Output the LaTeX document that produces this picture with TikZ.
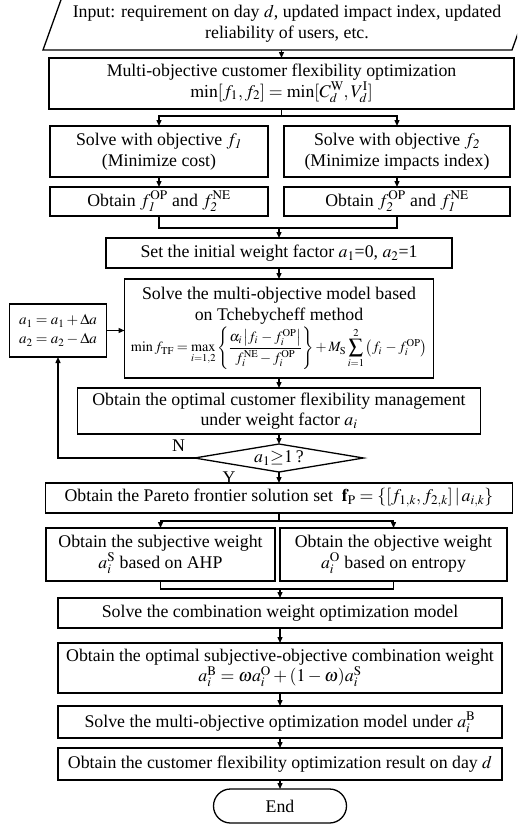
\documentclass[tikz,border=0pt]{standalone}
\usepackage{mathptmx}
\usepackage{fontspec}
\setmainfont{Liberation Serif}
\usetikzlibrary{positioning,shapes.geometric,arrows.meta}

\begin{document}
\begin{tikzpicture}[
    x=1pt, y=1pt,
    box/.style={
        draw,
        line width=1.3pt,
        align=center,
        font=\fontsize{17.8}{20.5}\selectfont,
        inner sep=1pt,
        outer sep=0pt
    },
    sidebox/.style={box, minimum width=218pt, minimum height=51pt},
    obtbox/.style={box, minimum width=218pt, minimum height=29pt},
    mainbox/.style={box, minimum width=444pt, minimum height=32pt},
    inputtext/.style={box, draw=none, minimum width=488pt, minimum height=53pt},
    decision/.style={box, diamond, aspect=6, minimum width=169pt, minimum height=28pt, inner sep=0pt},
    terminal/.style={box, rounded corners=17pt, minimum width=133pt, minimum height=34pt},
    lbl/.style={font=\fontsize{17.8}{20}\selectfont, inner sep=0pt},
    line/.style={line width=1.3pt},
    arr/.style={line, -{Triangle[length=6pt,width=5pt]}}
]
\useasboundingbox (0,0) rectangle (517,-825);
\clip (0,0) rectangle (517,-825);

\node[inputtext] (input) at (287,-23.5) {Input: requirement on day $d$, updated impact index, updated\\reliability of users, etc.};
\draw[line] (input.south west) -- ([xshift=-19pt]input.south east) -- (input.north east) -- ([xshift=19pt]input.north west) -- cycle;

\node[box, minimum width=465pt, minimum height=51pt, anchor=north] (opt) at (281.5,-58) {Multi-objective customer flexibility optimization\\$\min[f_1,f_2]=\min[C_d^{\mathrm{W}},V_d^{\mathrm{I}}]$};
\coordinate[below=7pt of opt] (split1);
\node[sidebox, below=17pt of opt, xshift=-122.5pt] (solve1) {Solve with objective $f_{\mathit{1}}$\\(Minimize cost)};
\node[sidebox, minimum width=226pt, below=17pt of opt, xshift=115.5pt] (solve2) {Solve with objective $f_{\mathit{2}}$\\(Minimize impacts index)};
\node[obtbox, below=10pt of solve1] (obt1) {Obtain $f_{\mathit{1}}^{\mathrm{OP}}$ and $f_{\mathit{2}}^{\mathrm{NE}}$};
\node[obtbox, minimum width=226pt, below=10pt of solve2] (obt2) {Obtain $f_{\mathit{2}}^{\mathrm{OP}}$ and $f_{\mathit{1}}^{\mathrm{NE}}$};

\node[box, minimum width=346pt, minimum height=30pt, below=129pt of opt, xshift=-2.5pt] (init) {Set the initial weight factor $a_1$=0, $a_2$=1};
\coordinate[above=10pt of init] (join1);
\node[box, minimum width=309pt, minimum height=99pt, below=11pt of init] (tcheb) {Solve the multi-objective model based\\on Tchebycheff method\\[2pt]
    \resizebox{296pt}{!}{$\displaystyle\min f_{\mathrm{TF}}=\max_{i=1,2}\left\{\frac{\alpha_i\left|f_i\,-f_i^{\mathrm{OP}}\right|}{f_i^{\mathrm{NE}}-f_i^{\mathrm{OP}}}\right\}+M_{\mathrm{S}}\sum_{i=1}^{2}\left(f_i\,-f_i^{\mathrm{OP}}\right)$}};
\node[box, font=\fontsize{15}{19}\selectfont, minimum width=97pt, minimum height=53pt, left=18pt of tcheb, yshift=-2pt] (update) {$a_1=a_1+\Delta a$\\$a_2=a_2-\Delta a$};
\node[box, minimum width=403pt, minimum height=46pt, below=10pt of tcheb] (manage) {Obtain the optimal customer flexibility management\\under weight factor $a_i$};
\node[decision, below=10pt of manage] (check) {$a_1{\geq}1$\,?};
\node[lbl] (no) at ([shift={(-16,12)}]check.west) {N};
\node[lbl] (yes) at ([shift={(-50,-6)}]check.south) {Y};

\node[box, minimum width=467pt, minimum height=30pt, below=11pt of check] (pareto) {Obtain the Pareto frontier solution set\ \ $\mathbf{f}_{\mathrm{P}}=\{[f_{1,k},f_{2,k}]\,|\,a_{i,k}\}$};
\coordinate[below=8pt of pareto] (split2);
\node[sidebox, minimum width=229pt, minimum height=53pt, below=15pt of pareto, xshift=-118.5pt] (subj) {Obtain the subjective weight\\$a_i^{\mathrm{S}}$ based on AHP};
\node[sidebox, minimum width=227pt, minimum height=53pt, below=15pt of pareto, xshift=114.5pt] (obj) {Obtain the objective weight\\$a_i^{\mathrm{O}}$ based on entropy};

\node[mainbox, minimum height=30pt, below=85pt of pareto, xshift=1pt] (comb) {Solve the combination weight optimization model};
\coordinate[above=9pt of comb] (join2);
\node[mainbox, minimum height=50pt, below=15pt of comb] (optw) {Obtain the optimal subjective-objective combination weight\\$a_i^{\mathrm{B}}=\omega a_i^{\mathrm{O}}+(1-\omega)a_i^{\mathrm{S}}$};
\node[mainbox, below=13pt of optw] (solvem) {Solve the multi-objective optimization model under $a_i^{\mathrm{B}}$};
\node[mainbox, below=10pt of solvem] (result) {Obtain the customer flexibility optimization result on day $d$};
\node[terminal, below=9pt of result] (end) {End};

\draw[arr] (input.south -| opt.north) -- (opt.north);
\draw[arr] (opt) -- (split1) -| (solve1);
\draw[arr] (split1) -| (solve2);
\draw[arr] (solve1) -- (obt1);
\draw[arr] (solve2) -- (obt2);
\draw[line] (obt1) |- (join1) -| (obt2);
\draw[arr] (join1) -- (init);
\draw[arr] (init) -- (tcheb);
\draw[arr] (update) -- (update -| tcheb.west);
\draw[arr] (tcheb) -- (manage);
\draw[arr] (manage) -- (check);
\draw[arr] (check.west) -| (update.south);
\draw[arr] (check) -- (pareto);
\draw[arr] (pareto) -- (split2) -| (subj);
\draw[arr] (split2) -| (obj);
\draw[line] (subj) |- (join2) -| (obj);
\draw[arr] (join2) -- (comb);
\draw[arr] (comb) -- (optw);
\draw[arr] (optw) -- (solvem);
\draw[arr] (solvem) -- (result);
\draw[arr] (result) -- (end);

\end{tikzpicture}
\end{document}
